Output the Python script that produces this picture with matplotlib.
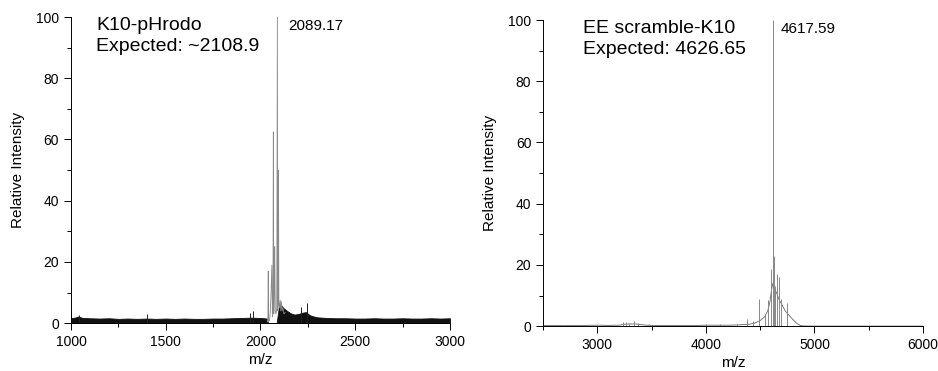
import matplotlib
matplotlib.use("Agg")
import matplotlib.pyplot as plt
from matplotlib.ticker import MultipleLocator

plt.rcParams['font.family'] = ['Liberation Sans', 'DejaVu Sans']

# ---- left spectrum: K10-pHrodo ----
# upper edge of the dense baseline noise band (m/z, rel. intensity)
k10_noise_mz = [1000, 1020, 1040, 1060, 1100, 1150, 1200, 1250, 1300, 1350, 1400, 1450,
                1500, 1550, 1600, 1650, 1700, 1750, 1800, 1850, 1900, 1950, 2000, 2035,
                2040, 2085, 2100, 2120, 2140, 2160, 2180, 2200, 2220, 2240, 2260, 2280,
                2300, 2350, 2400, 2450, 2500, 2550, 2600, 2650, 2700, 2750, 2800, 2850,
                2900, 2950, 3000]
k10_noise_top = [1.6, 1.8, 2.2, 1.7, 1.6, 1.5, 1.6, 1.4, 1.5, 1.4, 1.5, 1.4,
                 1.5, 1.4, 1.5, 1.4, 1.4, 1.5, 1.5, 1.6, 1.7, 1.8, 1.7, 1.5,
                 0.0, 0.0, 6.5, 5.0, 4.0, 3.2, 2.8, 3.0, 3.4, 3.6, 2.6, 2.2,
                 1.9, 1.7, 1.6, 1.6, 1.5, 1.5, 1.6, 1.5, 1.5, 1.6, 1.5, 1.5,
                 1.6, 1.5, 1.6]
# peak cluster profile
k10_prof_mz = [2035, 2039, 2041, 2043, 2048, 2052, 2056, 2060, 2063, 2066, 2068, 2070,
               2073, 2075, 2078, 2082, 2086, 2089.17, 2091, 2093, 2095, 2097, 2100,
               2104, 2107, 2110, 2114, 2118, 2124, 2130]
k10_prof_int = [1.0, 0.3, 17, 0.5, 1.0, 4.0, 10, 19, 2.0, 10, 62.5, 3.0,
                12, 25, 4.0, 3.0, 5.0, 100, 4.0, 8.0, 50, 6.0, 5.0,
                7.5, 4.0, 7.0, 4.0, 5.0, 3.0, 3.5]
# isolated spikes above the noise
k10_spike_mz = [1040, 1400, 1945, 1962, 2215, 2248]
k10_spike_int = [2.6, 3.0, 3.2, 4.0, 5.3, 6.6]

# ---- right spectrum: EE scramble-K10 ----
ee_prof_mz = [2500, 2600, 2700, 2800, 2900, 3000, 3100, 3200, 3250, 3300, 3350, 3400,
              3450, 3500, 3600, 3700, 3800, 3900, 4000, 4100, 4200, 4300, 4350, 4400,
              4450, 4500, 4540, 4570, 4590, 4605, 4617.59, 4630, 4650, 4670, 4700,
              4730, 4760, 4800, 4840, 4870, 4900, 5000, 5500, 6000]
ee_prof_int = [0.2, 0.2, 0.15, 0.2, 0.25, 0.3, 0.25, 0.3, 0.6, 0.7, 0.7, 0.5,
               0.3, 0.25, 0.2, 0.2, 0.2, 0.2, 0.3, 0.3, 0.3, 0.4, 0.5, 0.6,
               1.0, 1.8, 3.0, 5.0, 8.0, 12, 14, 12, 11, 9.0, 7.0,
               5.0, 3.8, 2.2, 0.8, 0.2, 0.05, 0.0, 0.0, 0.0]
ee_spike_mz = [3237, 3260, 3290, 3340, 3370, 3480, 4000, 4130, 4290, 4376, 4431,
               4489, 4540, 4575, 4600, 4617.59, 4625, 4640, 4658, 4677, 4690, 4745]
ee_spike_int = [1.2, 1.5, 1.0, 1.7, 1.0, 0.8, 0.6, 0.6, 0.8, 2.2, 1.7,
                9.0, 4.0, 8.5, 18.5, 100, 23, 13, 17, 16, 9.0, 7.6]

panels = [
    dict(title="K10-pHrodo\nExpected: ~2108.9", label="2089.17", xlim=(1000, 3000),
         major=500, minor=250),
    dict(title="EE scramble-K10\nExpected: 4626.65", label="4617.59", xlim=(2500, 6000),
         major=1000, minor=500),
]

fig = plt.figure(figsize=(9.38, 3.71), dpi=100)
ax1 = fig.add_axes([0.0757, 0.129, 0.404, 0.825])
ax2 = fig.add_axes([0.579, 0.121, 0.405, 0.825])

# left
ax1.fill_between(k10_noise_mz, 0, k10_noise_top, color='#111111', lw=0.6)
ax1.plot(k10_prof_mz, k10_prof_int, color='#888888', lw=0.6)
ax1.vlines(k10_spike_mz, 0, k10_spike_int, color='#222222', lw=0.7)
ax1.text(2089.17 + 55, 99.5, "2089.17", fontsize=11, va='top')

# right
ax2.plot(ee_prof_mz, ee_prof_int, color='#666666', lw=0.6)
ax2.vlines(ee_spike_mz, 0, ee_spike_int, color='#888888', lw=0.7)
ax2.text(4617.59 + 75, 99.5, "4617.59", fontsize=11, va='top')

title_x = [0.066, 0.106]
for ax, p, tx in zip([ax1, ax2], panels, title_x):
    ax.set_xlim(*p['xlim'])
    ax.set_ylim(0, 100)
    ax.xaxis.set_major_locator(MultipleLocator(p['major']))
    ax.xaxis.set_minor_locator(MultipleLocator(p['minor']))
    ax.yaxis.set_major_locator(MultipleLocator(20))
    ax.yaxis.set_minor_locator(MultipleLocator(10))
    ax.tick_params(which='major', length=5, width=0.7, labelsize=10)
    ax.tick_params(which='minor', length=3, width=0.7)
    for s in ['top', 'right']:
        ax.spines[s].set_visible(False)
    for s in ['left', 'bottom']:
        ax.spines[s].set_linewidth(0.7)
    ax.set_xlabel("m/z", fontsize=11, labelpad=3)
    ax.set_ylabel("Relative Intensity", fontsize=11, labelpad=8)
    ax.text(tx, 1.0, p['title'], transform=ax.transAxes, fontsize=14,
            va='top', ha='left', linespacing=1.3)

fig.savefig("out.png", dpi=100)
